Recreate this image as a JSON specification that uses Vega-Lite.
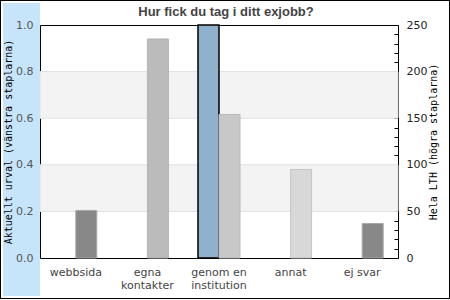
{
  "$schema": "https://vega.github.io/schema/vega-lite/v6.json",
  "padding": 0,
  "background": "white",
  "config": {
    "view": {"stroke": null},
    "concat": {"spacing": 0},
    "point": {"size": 0, "opacity": 0, "strokeWidth": 0},
    "axis": {"grid": false, "labelFont": "DejaVu Sans", "labelFontSize": 11, "titleFont": "DejaVu Sans Mono", "titleFontSize": 10, "titleFontWeight": "normal", "titleColor": "#000", "domainColor": "#000", "domainWidth": 1}
  },
  "datasets": {
    "rows": [
      {"cat": "webbsida", "urval": 0, "lth": 51},
      {"cat": "egna kontakter", "urval": 0, "lth": 235},
      {"cat": "genom en institution", "urval": 1, "lth": 154},
      {"cat": "annat", "urval": 0, "lth": 95},
      {"cat": "ej svar", "urval": 0, "lth": 37}
    ],
    "bands": [
      {"lo": 0.2, "hi": 0.4},
      {"lo": 0.6, "hi": 0.8}
    ],
    "blank": [{}]
  },
  "bounds": "flush",
  "spacing": 0,
  "columns": 5,
  "concat": [
    {"width": 1, "height": 1, "view": {"fill": "#000"}, "data": {"name": "blank"}, "mark": "point", "encoding": {}},
    {"width": 2, "height": 1, "view": {"fill": "#000"}, "data": {"name": "blank"}, "mark": "point", "encoding": {}},
    {"width": 37, "height": 1, "view": {"fill": "#000"}, "data": {"name": "blank"}, "mark": "point", "encoding": {}},
    {"width": 409, "height": 1, "view": {"fill": "#000"}, "data": {"name": "blank"}, "mark": "point", "encoding": {}},
    {"width": 1, "height": 1, "view": {"fill": "#000"}, "data": {"name": "blank"}, "mark": "point", "encoding": {}},

    {"width": 1, "height": 2, "view": {"fill": "#000"}, "data": {"name": "blank"}, "mark": "point", "encoding": {}},
    {"width": 2, "height": 2, "data": {"name": "blank"}, "mark": "point", "encoding": {}},
    {"width": 37, "height": 2, "data": {"name": "blank"}, "mark": "point", "encoding": {}},
    {"width": 409, "height": 2, "data": {"name": "blank"}, "mark": "point", "encoding": {}},
    {"width": 1, "height": 2, "view": {"fill": "#000"}, "data": {"name": "blank"}, "mark": "point", "encoding": {}},

    {"width": 1, "height": 22, "view": {"fill": "#000"}, "data": {"name": "blank"}, "mark": "point", "encoding": {}},
    {"width": 2, "height": 22, "data": {"name": "blank"}, "mark": "point", "encoding": {}},
    {"width": 37, "height": 22, "view": {"fill": "#c6e5fb"}, "data": {"name": "blank"}, "mark": "point", "encoding": {}},
    {"width": 409, "height": 22, "data": {"name": "blank"}, "mark": "point", "encoding": {}},
    {"width": 1, "height": 22, "view": {"fill": "#000"}, "data": {"name": "blank"}, "mark": "point", "encoding": {}},

    {"width": 1, "height": 271, "view": {"fill": "#000"}, "data": {"name": "blank"}, "mark": "point", "encoding": {}},
    {"width": 2, "height": 271, "data": {"name": "blank"}, "mark": "point", "encoding": {}},
    {"width": 37, "height": 271, "view": {"fill": "#c6e5fb"}, "data": {"name": "blank"}, "mark": "point", "encoding": {}},
    {
      "width": 358,
      "height": 233,
      "title": {"text": "Hur fick du tag i ditt exjobb?", "font": "Liberation Sans", "fontSize": 13, "fontWeight": "bold", "color": "#444", "dx": 7, "dy": 4},
      "data": {"name": "rows"},
      "layer": [
        {
          "layer": [
            {
              "data": {"name": "bands"},
              "mark": {"type": "rect", "fill": "#f3f3f3", "stroke": "#e0e0e0", "strokeWidth": 1},
              "encoding": {
                "y": {"field": "lo", "type": "quantitative", "scale": {"domain": [0, 1]},
                      "axis": {"orient": "left", "title": "Aktuellt urval (vänstra staplarna)", "values": [0, 0.2, 0.4, 0.6, 0.8, 1], "format": ".1f", "ticks": false, "labelPadding": 7, "labelColor": "#555", "titlePadding": 2}},
                "y2": {"field": "hi"}
              }
            },
            {
              "transform": [{"filter": "datum.urval > 0"}],
              "mark": {"type": "bar", "width": 21, "xOffset": -10.5, "fill": "#8fb1cc", "stroke": "#000", "strokeWidth": 1.5},
              "encoding": {
                "x": {"field": "cat", "type": "nominal", "sort": null, "scale": {"domain": ["webbsida", "egna kontakter", "genom en institution", "annat", "ej svar"], "paddingInner": 0, "paddingOuter": 0},
                      "axis": {"orient": "top", "labels": false, "ticks": false, "title": null}},
                "y": {"field": "urval", "type": "quantitative", "scale": {"domain": [0, 1]},
                      "axis": {"orient": "left", "title": "Aktuellt urval (vänstra staplarna)", "values": [0, 0.2, 0.4, 0.6, 0.8, 1], "format": ".1f", "ticks": false, "labelPadding": 7, "labelColor": "#555", "titlePadding": 2}}
              }
            }
          ]
        },
        {
          "mark": {"type": "bar", "width": 21, "xOffset": 10.5, "strokeWidth": 1},
          "encoding": {
            "x": {"field": "cat", "type": "nominal", "sort": null, "scale": {"domain": ["webbsida", "egna kontakter", "genom en institution", "annat", "ej svar"], "paddingInner": 0, "paddingOuter": 0},
                  "axis": {"orient": "bottom", "title": null, "ticks": false, "labelAngle": 0, "labelPadding": 8, "labelColor": "#444", "labelLineHeight": 13,
                           "labelExpr": "datum.label == 'egna kontakter' ? ['egna', 'kontakter'] : datum.label == 'genom en institution' ? ['genom en', 'institution'] : datum.label"}},
            "y": {"field": "lth", "type": "quantitative", "scale": {"domain": [0, 250]},
                  "axis": {"orient": "right", "title": "Hela LTH (högra staplarna)", "titleAngle": 270, "titleBaseline": "top", "titlePadding": 2,
                           "values": [0, 10, 20, 30, 40, 50, 60, 70, 80, 90, 100, 110, 120, 130, 140, 150, 160, 170, 180, 190, 200, 210, 220, 230, 240, 250],
                           "labelExpr": "datum.value % 50 == 0 ? datum.label : ''", "labelOverlap": false, "tickSize": -4, "tickColor": "#000", "labelPadding": 12, "labelColor": "#222"}},
            "fill": {"field": "cat", "type": "nominal", "legend": null,
                     "scale": {"domain": ["webbsida", "egna kontakter", "genom en institution", "annat", "ej svar"], "range": ["#888888", "#bbbbbb", "#c8c8c8", "#d8d8d8", "#888888"]}},
            "stroke": {"field": "cat", "type": "nominal", "legend": null,
                       "scale": {"domain": ["webbsida", "egna kontakter", "genom en institution", "annat", "ej svar"], "range": ["#a8a8a8", "#b3b3b3", "#bababa", "#c4c4c4", "#a8a8a8"]}}
          }
        }
      ],
      "resolve": {"scale": {"y": "independent"}, "axis": {"x": "independent"}}
    },
    {"width": 1, "height": 271, "view": {"fill": "#000"}, "data": {"name": "blank"}, "mark": "point", "encoding": {}},

    {"width": 1, "height": 2, "view": {"fill": "#000"}, "data": {"name": "blank"}, "mark": "point", "encoding": {}},
    {"width": 2, "height": 2, "data": {"name": "blank"}, "mark": "point", "encoding": {}},
    {"width": 37, "height": 2, "data": {"name": "blank"}, "mark": "point", "encoding": {}},
    {"width": 409, "height": 2, "data": {"name": "blank"}, "mark": "point", "encoding": {}},
    {"width": 1, "height": 2, "view": {"fill": "#000"}, "data": {"name": "blank"}, "mark": "point", "encoding": {}},

    {"width": 1, "height": 1, "view": {"fill": "#000"}, "data": {"name": "blank"}, "mark": "point", "encoding": {}},
    {"width": 2, "height": 1, "view": {"fill": "#000"}, "data": {"name": "blank"}, "mark": "point", "encoding": {}},
    {"width": 37, "height": 1, "view": {"fill": "#000"}, "data": {"name": "blank"}, "mark": "point", "encoding": {}},
    {"width": 409, "height": 1, "view": {"fill": "#000"}, "data": {"name": "blank"}, "mark": "point", "encoding": {}},
    {"width": 1, "height": 1, "view": {"fill": "#000"}, "data": {"name": "blank"}, "mark": "point", "encoding": {}}
  ]
}
